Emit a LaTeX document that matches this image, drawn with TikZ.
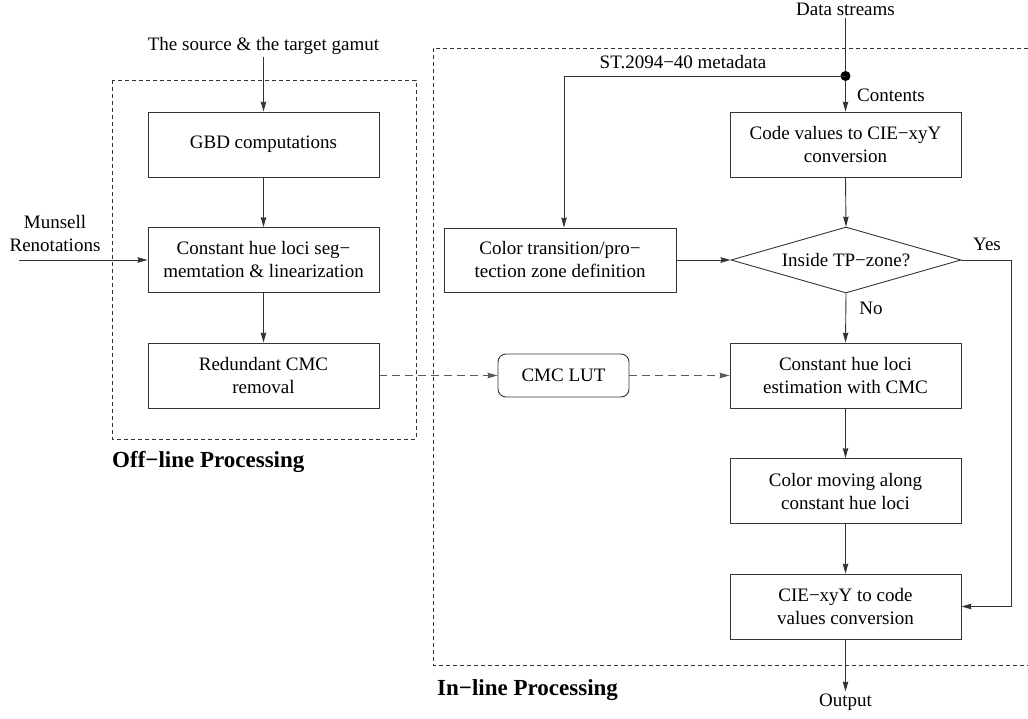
\documentclass[tikz,border=0pt]{standalone}
\usepackage{fontspec}
\setmainfont{Liberation Serif}
\usetikzlibrary{arrows.meta,shapes.geometric}
\definecolor{ln}{gray}{0.2}
\definecolor{dl}{gray}{0.35}
\tikzset{
  box/.style={draw=ln, line width=0.9pt, minimum width=231pt, minimum height=65pt, align=center, inner sep=2pt},
  lbl/.style={inner sep=2pt, align=center},
  arr/.style={draw=ln, line width=0.9pt, -{Stealth[length=10pt,width=5.5pt,inset=1pt]}},
  darr/.style={draw=dl, line width=0.9pt, dash pattern=on 8pt off 5pt, -{Stealth[length=10pt,width=5.5pt,inset=1pt]}},
  frame/.style={draw=ln, line width=0.8pt, dash pattern=on 4pt off 3pt},
  ttl/.style={inner sep=0pt, anchor=west, font=\fontsize{23}{27}\selectfont\bfseries}
}
\begin{document}
\begin{tikzpicture}[x=1pt, y=-1pt, font=\fontsize{19}{23}\selectfont]
\useasboundingbox (0,0) rectangle (1028,719);
% frames
\draw[frame] (112,80) rectangle (416,439);
\draw[frame] (1028,48) -- (433,48) -- (433,665) -- (1028,665);
\node[ttl] (offl) at (112,462) {Off−line Processing};
\node[ttl] (inl) at (437,690) {In−line Processing};
% offline column
\node[lbl] (src) at (263.5,46) {The source \& the target gamut};
\node[box] (gbd) at (263.5,144.5) {GBD computations};
\node[box] (seg) at (263.5,260) {Constant hue loci seg−\\memtation \& linearization};
\node[box] (red) at (263.5,375.5) {Redundant CMC\\removal};
\node[lbl] (mun) at (55,234) {Munsell\\Renotations};
\coordinate (munin) at (19,260);
% inline
\node[lbl] (data) at (845.5,9) {Data streams};
\coordinate (split) at (845.5,76);
\node[box] (code) at (845.5,144.5) {Code values to CIE−xyY\\conversion};
\node[box, minimum width=232pt, minimum height=64pt] (trans) at (560,260) {Color transition/pro−\\tection zone definition};
\node[draw=ln, line width=0.9pt, shape=diamond, aspect=3.5, inner sep=0pt, minimum width=230pt, minimum height=66pt] (dia) at (846,260) {Inside TP−zone?};
\node[box] (est) at (845.5,375.5) {Constant hue loci\\estimation with CMC};
\node[box] (mov) at (845.5,491) {Color moving along\\constant hue loci};
\node[box] (cie) at (845.5,606.5) {CIE−xyY to code\\values conversion};
\node[lbl] (out) at (845.5,702) {Output};
\node[draw=ln, line width=0.9pt, rounded corners=8pt, minimum width=131pt, minimum height=43pt] (lut) at (563.5,375.5) {CMC LUT};
% labels
\node[lbl] (meta) at (683,62) {ST.2094−40 metadata};
\node[lbl, anchor=west] (cont) at (855,95) {Contents};
\node[lbl] (yes) at (987,244) {Yes};
\node[lbl] (no) at (871,308) {No};
% connectors
\draw[arr] (gbd.north |- src.south) -- (gbd.north);
\draw[arr] (gbd) -- (seg);
\draw[arr] (seg) -- (red);
\draw[arr] (munin) -- (seg.west);
\draw[arr] (data.south) -- (code.north);
\fill[black] (split) circle (5pt);
\draw[arr] (split) -| ([xshift=4pt]trans.north);
\draw[arr] (code.south) -- (dia.north);
\draw[arr] (trans.east) -- (dia.west);
\draw[arr] (dia.south) -- (est.north);
\draw[arr] (dia.east) -- ++(50,0) |- (cie.east);
\draw[arr] (est) -- (mov);
\draw[arr] (mov) -- (cie);
\draw[arr] (cie.south) -- (out.north);
\draw[darr] (red.east) -- (lut.west);
\draw[darr] (lut.east) -- (est.west);
\end{tikzpicture}
\end{document}
